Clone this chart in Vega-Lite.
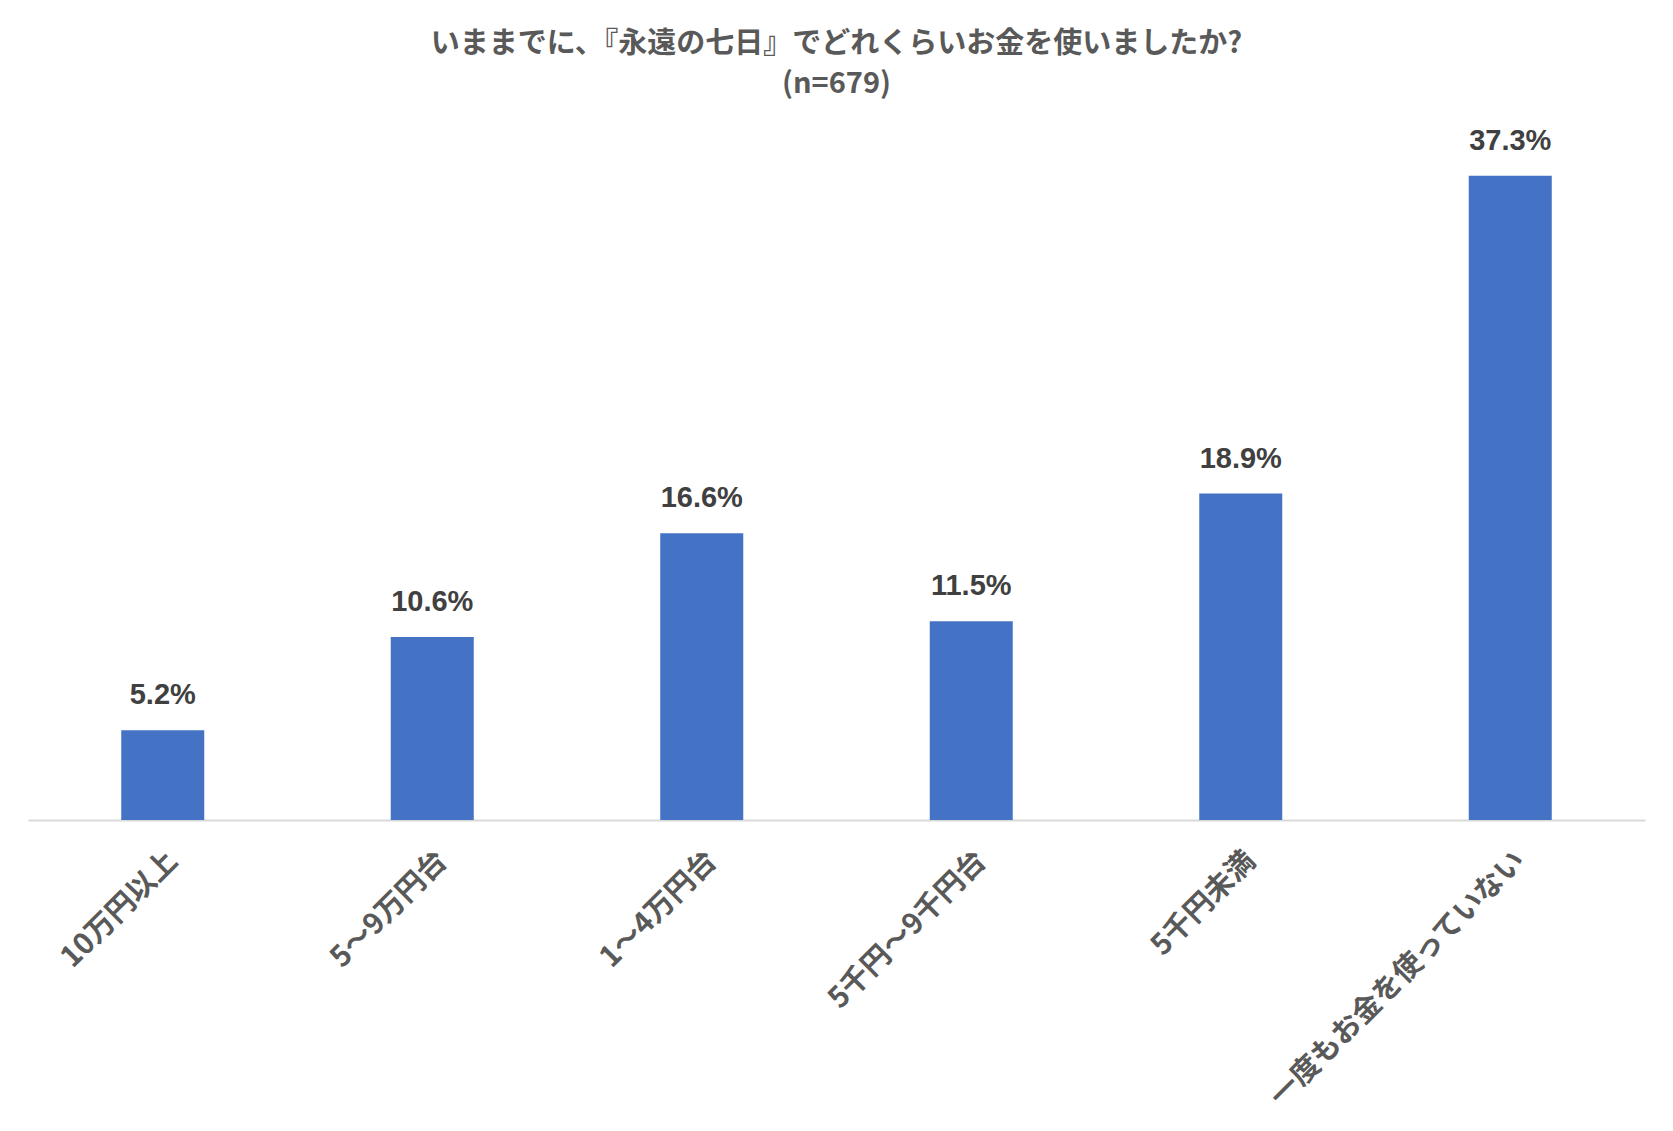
{
  "$schema": "https://vega.github.io/schema/vega-lite/v6.json",
  "autosize": {"type": "none"},
  "width": 1617,
  "height": 691,
  "padding": {"left": 28, "top": 129, "right": 28, "bottom": 311},
  "background": "white",
  "title": {
    "text": ["いままでに、『永遠の七日』でどれくらいお金を使いましたか?", "(n=679)"],
    "font": "Noto Sans CJK JP",
    "fontSize": 29,
    "fontWeight": "bold",
    "color": "#595959",
    "lineHeight": 40,
    "anchor": "middle",
    "frame": "group",
    "offset": 28
  },
  "data": {
    "values": [
      {"category": "10万円以上", "value": 0.052},
      {"category": "5～9万円台", "value": 0.106},
      {"category": "1～4万円台", "value": 0.166},
      {"category": "5千円～9千円台", "value": 0.115},
      {"category": "5千円未満", "value": 0.189},
      {"category": "一度もお金を使っていない", "value": 0.373}
    ]
  },
  "encoding": {
    "x": {
      "field": "category",
      "type": "nominal",
      "sort": null,
      "scale": {"paddingInner": 0.692, "paddingOuter": 0.346},
      "axis": {
        "title": null,
        "labelAngle": -45,
        "labelFont": "Noto Sans CJK JP",
        "labelFontSize": 29,
        "labelFontWeight": "bold",
        "labelColor": "#595959",
        "labelLimit": 1000,
        "labelPadding": 26,
        "labelDx": -6,
        "ticks": false,
        "domainColor": "#D9D9D9",
        "domainWidth": 2,
        "grid": false
      }
    },
    "y": {
      "field": "value",
      "type": "quantitative",
      "scale": {"domain": [0, 0.4]},
      "axis": null
    }
  },
  "layer": [
    {"mark": {"type": "bar", "color": "#4472C4"}},
    {
      "mark": {
        "type": "text",
        "font": "Liberation Sans",
        "fontSize": 29,
        "fontWeight": "bold",
        "color": "#404040",
        "baseline": "alphabetic",
        "dy": -26
      },
      "encoding": {
        "text": {"field": "value", "type": "quantitative", "format": ".1%"}
      }
    }
  ],
  "config": {"view": {"stroke": null}}
}
